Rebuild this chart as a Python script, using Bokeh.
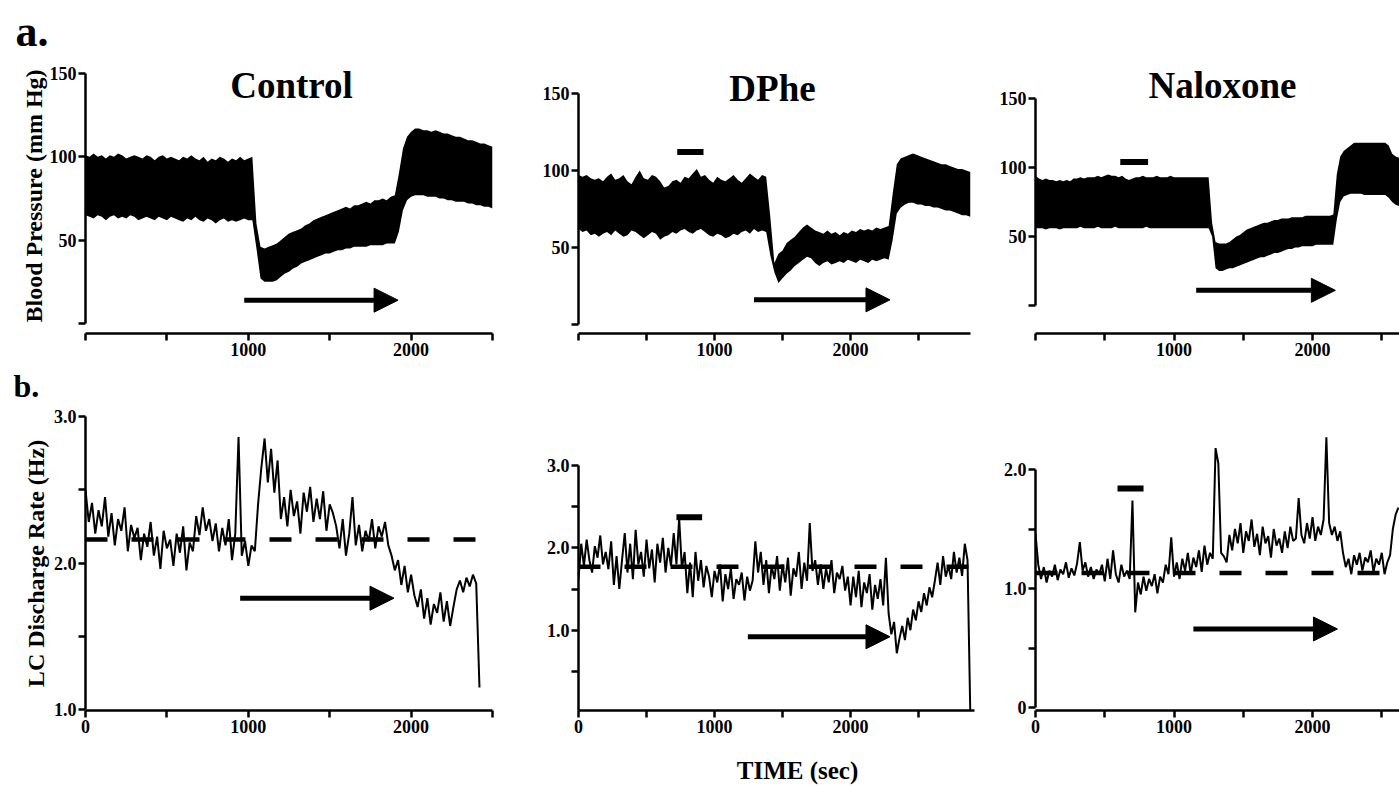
import numpy as np
from bokeh.plotting import figure
from bokeh.layouts import row, column
from bokeh.models import (Range1d, FixedTicker, Label, Arrow, NormalHead,
                          CustomJSTickFormatter)
from bokeh.embed import file_html
from bokeh.resources import INLINE

FONT = "Liberation Serif"

# ------------------------------------------------------------------ DATA
titles = ["Control", "DPhe", "Naloxone"]
row_letters = ["a.", "b."]
bp_label = "Blood Pressure (mm Hg)"
lc_label = "LC Discharge Rate (Hz)"
time_label = "TIME (sec)"

# Blood pressure envelopes (mm Hg) - upper (systolic) and lower (diastolic)
a1_dt = 25
a1_upper = [101, 100, 102, 100, 101, 99, 101, 100, 102, 101,
            99, 100, 101, 100, 99, 101, 100, 98, 100, 101,
            99, 100, 99, 98, 100, 99, 101, 99, 98, 100,
            97, 99, 98, 100, 99, 97, 99, 98, 100, 98,
            99, 100, 60, 46, 45, 46, 47, 48, 50, 52,
            54, 55, 56, 57, 59, 60, 62, 63, 64, 65,
            66, 67, 68, 69, 70, 69, 71, 71, 72, 73,
            72, 74, 74, 75, 74, 76, 77, 90, 105, 112,
            115, 117, 117, 116, 116, 115, 116, 115, 114, 114,
            113, 112, 112, 111, 110, 110, 109, 108, 108, 107,
            106]
a1_lower = [65, 64, 63, 65, 64, 62, 64, 65, 63, 64,
            63, 65, 64, 62, 63, 64, 63, 62, 64, 63,
            62, 64, 63, 62, 61, 63, 62, 64, 62, 61,
            63, 62, 60, 62, 63, 61, 62, 61, 62, 63,
            62, 62, 45, 27, 25, 25, 25, 26, 28, 30,
            31, 33, 34, 36, 37, 38, 39, 40, 41, 42,
            42, 43, 44, 44, 45, 45, 46, 46, 46, 46,
            47, 47, 47, 47, 48, 48, 48, 55, 68, 74,
            76, 77, 77, 77, 76, 76, 76, 75, 75, 74,
            74, 73, 73, 73, 72, 72, 71, 71, 70, 70,
            69]

a2_dt = 30
a2_upper = [97, 96, 97, 95, 94, 95, 93, 96, 98, 94,
            95, 97, 93, 91, 96, 100, 95, 94, 97, 96,
            93, 89, 90, 93, 94, 92, 96, 95, 98, 101,
            96, 97, 94, 92, 96, 94, 93, 95, 97, 94,
            92, 95, 98, 96, 94, 97, 96,
            70, 40, 46, 48, 53, 55, 57, 60, 63, 65,
            63, 61, 60, 59, 61, 59, 60, 58, 60, 59,
            61, 60, 62, 61, 62, 61, 63, 62, 63, 64,
            85, 104, 108, 109, 110, 111, 110, 109, 108, 107,
            106, 105, 104, 104, 103, 102, 101, 101, 100, 99]
a2_lower = [62, 60, 61, 58, 59, 57, 59, 60, 58, 61,
            59, 57, 58, 61, 60, 58, 56, 58, 60, 59,
            55, 57, 58, 60, 59, 61, 62, 60, 59, 61,
            62, 60, 58, 57, 59, 58, 56, 57, 59, 58,
            60, 61, 59, 62, 60, 61, 60,
            45, 34, 27, 30, 33, 35, 38, 40, 42, 44,
            43, 40, 38, 40, 41, 39, 40, 41, 40, 42,
            41, 40, 42, 41, 40, 42, 41, 42, 43, 42,
            55, 72, 76, 78, 79, 79, 78, 78, 77, 77,
            76, 76, 75, 74, 74, 73, 72, 71, 71, 70]

a3_dt = 25
a3_upper = [94, 92, 91, 92, 91, 91, 90, 91, 90, 91,
            90, 92, 92, 93, 92, 93, 93, 93, 94, 93,
            94, 95, 94, 94, 93, 94, 92, 91, 92, 93,
            93, 94, 93, 93, 93, 94, 93, 93, 93, 94,
            93, 93, 93, 93, 93, 93, 93, 93, 93, 93, 93,
            60, 46, 45, 45, 45, 46, 48, 50, 51, 53,
            55, 56, 57, 58, 59, 60, 60, 61, 62, 62,
            63, 63, 63, 64, 64, 64, 64, 65, 65, 65,
            65, 65, 65, 65, 65, 66, 95, 108, 112, 114,
            116, 118, 118, 118, 118, 118, 118, 118, 118, 118,
            118, 116, 110, 108, 107]
a3_lower = [56, 56, 56, 55, 56, 56, 56, 55, 56, 56,
            56, 56, 56, 57, 56, 56, 56, 56, 57, 56,
            56, 56, 56, 57, 56, 56, 56, 56, 56, 56,
            56, 56, 57, 56, 56, 56, 56, 56, 56, 56,
            56, 56, 56, 56, 56, 56, 56, 56, 56, 56, 56,
            50, 27, 25, 25, 26, 27, 27, 28, 29, 30,
            31, 32, 33, 34, 35, 35, 36, 37, 38, 38,
            39, 40, 41, 41, 42, 42, 43, 43, 43, 43,
            44, 44, 44, 44, 44, 44, 62, 75, 79, 80,
            81, 81, 81, 81, 80, 80, 80, 80, 80, 80,
            80, 78, 75, 73, 72]

# LC discharge rate (Hz), sampled every lc_dt seconds
lc_dt = 20
b1_rate = [2.50, 2.28, 2.41, 2.20, 2.36, 2.25, 2.45, 2.18, 2.34, 2.12,
           2.30, 2.22, 2.38, 2.08, 2.26, 2.17, 2.24, 2.02, 2.20, 2.11,
           2.28, 2.05, 2.18, 1.96, 2.22, 2.10, 2.16, 1.98, 2.20, 2.07,
           2.25, 1.95, 2.14, 2.08, 2.32, 2.19, 2.38, 2.22, 2.30, 2.15,
           2.27, 2.08, 2.24, 2.12, 2.30, 2.02, 2.20, 2.86, 2.05, 2.15,
           1.98, 2.12, 2.08, 2.40, 2.65, 2.85, 2.55, 2.78, 2.48, 2.70,
           2.30, 2.45, 2.25, 2.50, 2.32, 2.42, 2.20, 2.48, 2.35, 2.52,
           2.28, 2.44, 2.30, 2.49, 2.22, 2.40, 2.34, 2.25, 2.10, 2.30,
           2.05, 2.20, 2.45, 2.12, 2.26, 2.08, 2.22, 2.15, 2.30, 2.10,
           2.25, 2.18, 2.28, 2.12, 2.05, 1.95, 2.02, 1.85, 1.98, 1.80,
           1.92, 1.78, 1.70, 1.82, 1.62, 1.76, 1.58, 1.72, 1.66, 1.80,
           1.60, 1.74, 1.57, 1.70, 1.82, 1.88, 1.80, 1.90, 1.84, 1.92,
           1.86, 1.15]
b2_rate = [1.62, 2.05, 1.78, 2.10, 1.85, 1.70, 2.02, 1.88, 2.15, 1.80,
           1.95, 1.74, 2.08, 1.55, 1.90, 1.50, 1.85, 2.18, 1.70, 2.05,
           1.62, 2.22, 1.80, 1.95, 1.65, 2.10, 1.75, 1.98, 1.58, 2.05,
           1.82, 2.12, 1.70, 2.00, 1.78, 2.18, 1.80, 2.36, 1.75, 1.95,
           1.45, 1.82, 1.40, 1.95, 1.60, 1.85, 1.52, 1.78, 1.65, 1.40,
           1.72, 1.58, 1.80, 1.35, 1.68, 1.50, 1.75, 1.38, 1.62, 1.55,
           1.70, 1.36, 1.65, 1.48, 1.60, 2.08, 1.70, 1.95, 1.55, 1.85,
           1.45, 1.78, 1.62, 1.90, 1.48, 1.80, 1.58, 1.88, 1.42, 1.75,
           1.65, 1.95, 1.50, 1.82, 1.60, 2.30, 1.72, 1.85, 1.55, 1.80,
           1.50, 1.75, 1.58, 1.85, 1.45, 1.70, 1.62, 1.78, 1.48, 1.65,
           1.30, 1.65, 1.40, 1.72, 1.28, 1.58, 1.45, 1.68, 1.25, 1.55,
           1.38, 1.62, 1.30, 1.88, 1.20, 0.95, 1.10, 0.72, 0.90, 1.05,
           0.88, 1.15, 1.00, 1.25, 1.12, 1.35, 1.22, 1.45, 1.30, 1.52,
           1.40, 1.60, 1.82, 1.55, 1.90, 1.65, 1.78, 1.62, 1.95, 1.70,
           1.88, 1.66, 2.05, 1.85, 0.02]
b3_rate = [1.46, 1.20, 1.08, 1.18, 1.05, 1.15, 1.10, 1.20, 1.07, 1.16,
           1.12, 1.22, 1.09, 1.17, 1.11, 1.21, 1.39, 1.15, 1.22, 1.10,
           1.18, 1.08, 1.16, 1.12, 1.20, 1.06, 1.25, 1.08, 1.32, 1.12,
           1.05, 1.20, 1.10, 1.15, 1.08, 1.74, 0.80, 1.05, 0.95, 1.10,
           0.98, 1.08, 1.02, 1.12, 0.96, 1.10, 1.05, 1.20, 1.12, 1.43,
           1.10, 1.22, 1.08, 1.25, 1.15, 1.30, 1.12, 1.26, 1.18, 1.32,
           1.14, 1.36, 1.20, 1.30, 1.25, 2.18, 2.05, 1.30, 1.27, 1.22,
           1.45, 1.32, 1.50, 1.38, 1.55, 1.30, 1.48, 1.40, 1.58, 1.35,
           1.46, 1.28, 1.52, 1.38, 1.44, 1.26, 1.50, 1.36, 1.42, 1.30,
           1.48, 1.34, 1.52, 1.40, 1.42, 1.76, 1.45, 1.38, 1.55, 1.42,
           1.60, 1.40, 1.52, 1.45, 1.58, 2.27, 1.55, 1.45, 1.52, 1.40,
           1.48, 1.30, 1.18, 1.25, 1.12, 1.28, 1.20, 1.30, 1.15, 1.26,
           1.22, 1.32, 1.14, 1.25, 1.20, 1.30, 1.12, 1.22, 1.28, 1.50,
           1.62, 1.68]

# pre-drug baseline (dashed) levels, Hz
b1_base = 2.16
b2_base = 1.77
b3_base = 1.13

# drug application bars: [start, end] s, and level
a2_bar, a2_bar_level = [726, 919], 112
a3_bar, a3_bar_level = [612, 813], 104
b2_bar, b2_bar_level = [720, 909], 2.37
b3_bar, b3_bar_level = [592, 780], 1.84

# stimulus arrows: [start, end] s, and level
a1_arrow, a1_arrow_level = [975, 1920], 14
a2_arrow, a2_arrow_level = [1290, 2290], 16
a3_arrow, a3_arrow_level = [1160, 2165], 11
b1_arrow, b1_arrow_level = [950, 1895], 1.76
b2_arrow, b2_arrow_level = [1245, 2290], 0.92
b3_arrow, b3_arrow_level = [1140, 2180], 0.66

# axis ticks
bp_major, bp_minor = [50, 100, 150], [0]
top_x_major, top_x_minor = [1000, 2000], [0, 500, 1500, 2500]
bot_x_major, bot_x_minor = [0, 1000, 2000], [500, 1500, 2500]
b1_y_major, b1_y_minor = [1.0, 2.0, 3.0], [1.5, 2.5]
b2_y_major, b2_y_minor = [0, 1.0, 2.0, 3.0], [0.5, 1.5, 2.5]
b3_y_major, b3_y_minor = [0, 1.0, 2.0], [0.5, 1.5]

# ------------------------------------------------------------------ LAYOUT
PAGE_W = 1399
COLS = [(0, 520), (520, 995), (995, 1399)]
STRIP_A = (0, 58)
ROW_TOP = (58, 364)
STRIP_B = (364, 405)
ROW_BOT = (405, 752)
STRIP_T = (752, 786)

# frame edges (page px): shared per column / per row
COL_FRAMES = [(85, 492), (578, 976), (1035, 1399)]
TOP_FRAME = (58, 333)
BOT_FRAME = (416, 710)

# the renderer draws "alphabetic" text this fraction of the font size low
BASELINE_FIX = 0.28


def y_range_from(anchor0, anchor1, top, bottom):
    (v0, p0), (v1, p1) = anchor0, anchor1
    s = (p0 - p1) / (v1 - v0)
    return (v0 - (bottom - p0) / s, v1 + (p1 - top) / s)


def spec(col, rowbox, frame_tb, xr, a0, a1):
    L, R = COL_FRAMES[col]
    T, B = frame_tb
    return dict(col=col, rowbox=rowbox, L=L, R=R, T=T, B=B, xr=xr,
                yr=y_range_from(a0, a1, T, B))


SPECS = {
    "A1": spec(0, ROW_TOP, TOP_FRAME, (0, 2500), (0, 323), (150, 73)),
    "A2": spec(1, ROW_TOP, TOP_FRAME, (0, 2926), (0, 324), (150, 93)),
    "A3": spec(2, ROW_TOP, TOP_FRAME, (0, 2628), (0, 305), (150, 98)),
    "B1": spec(0, ROW_BOT, BOT_FRAME, (0, 2500), (1.0, 709), (3.0, 416)),
    "B2": spec(1, ROW_BOT, BOT_FRAME, (0, 2926), (0, 712), (3.0, 465)),
    "B3": spec(2, ROW_BOT, BOT_FRAME, (0, 2628), (0, 707), (2.0, 469)),
}


def to_data(s, px, py):
    x0, x1 = s["xr"]
    y0, y1 = s["yr"]
    return (x0 + (px - s["L"]) / (s["R"] - s["L"]) * (x1 - x0),
            y0 + (s["B"] - py) / (s["B"] - s["T"]) * (y1 - y0))


def style_axis(ax):
    ax.axis_line_width = 2.5
    ax.axis_line_color = "black"
    ax.major_tick_line_width = 2.5
    ax.minor_tick_line_width = 2.5
    ax.major_tick_line_color = "black"
    ax.minor_tick_line_color = "black"
    ax.major_tick_out = 7
    ax.major_tick_in = 0
    ax.minor_tick_out = 7
    ax.minor_tick_in = 0
    ax.major_label_text_font = FONT
    ax.major_label_text_font_style = "bold"
    ax.major_label_text_font_size = "18px"
    ax.major_label_text_color = "black"
    ax.major_label_standoff = 2
    ax.axis_label_text_font = FONT
    ax.axis_label_text_font_style = "bold"
    ax.axis_label_text_font_size = "24px"
    ax.axis_label_text_color = "black"


def make_panel(name, xb, yb, xt, yt, yfmt=None):
    s = SPECS[name]
    cl, cr = COLS[s["col"]]
    rt, rb = s["rowbox"]
    p = figure(width=cr - cl, height=rb - rt,
               x_range=Range1d(*s["xr"]), y_range=Range1d(*s["yr"]),
               min_border_left=s["L"] - cl, min_border_right=cr - s["R"],
               min_border_top=s["T"] - rt, min_border_bottom=rb - s["B"],
               output_backend="svg", toolbar_location=None)
    p.outline_line_color = None
    p.xgrid.visible = False
    p.ygrid.visible = False
    p.background_fill_color = "white"
    p.border_fill_color = "white"
    style_axis(p.xaxis[0])
    style_axis(p.yaxis[0])
    p.xaxis.bounds = xb
    p.yaxis.bounds = yb
    p.xaxis.ticker = FixedTicker(ticks=xt[0], minor_ticks=xt[1])
    p.yaxis.ticker = FixedTicker(ticks=yt[0], minor_ticks=yt[1])
    if yfmt is not None:
        p.yaxis.formatter = yfmt
    return p, s


def text_label(x, y, text, size, align):
    return Label(x=x, y=y, text=text, text_font=FONT,
                 text_font_style="bold", text_font_size=f"{size}px",
                 text_align=align, text_baseline="alphabetic",
                 text_color="black")


def add_label(p, s, text, px, py, size, align="center"):
    x, y = to_data(s, px, py - BASELINE_FIX * size)
    p.add_layout(text_label(x, y, text, size, align))


def add_arrow(p, span, level):
    p.add_layout(Arrow(x_start=span[0], y_start=level, x_end=span[1],
                       y_end=level, line_width=5, line_color="black",
                       end=NormalHead(size=24, fill_color="black",
                                      line_color="black", line_width=1)))


def add_bar(p, span, level):
    p.segment(x0=[span[0]], y0=[level], x1=[span[1]], y1=[level],
              line_width=6, line_color="black")


def rate_fmt():
    return CustomJSTickFormatter(code="return tick == 0 ? '0' : tick.toFixed(1);")


def strip(box, text, px, anchor_y, size, align):
    y0, y1 = box
    p = figure(width=PAGE_W, height=y1 - y0,
               x_range=Range1d(0, PAGE_W), y_range=Range1d(y1, y0),
               x_axis_location=None, y_axis_location=None,
               min_border_left=0, min_border_right=0,
               min_border_top=0, min_border_bottom=0,
               output_backend="svg", toolbar_location=None)
    p.outline_line_color = None
    p.xgrid.visible = False
    p.ygrid.visible = False
    p.border_fill_color = "white"
    p.add_layout(text_label(px, anchor_y, text, size, align))
    return p


# ---- top row: blood pressure
def bp_panel(name, dt, upper, lower, xbound):
    p, s = make_panel(name, (0, xbound), (0, 150),
                      (top_x_major, top_x_minor), (bp_major, bp_minor))
    t = np.arange(len(upper)) * dt
    p.varea(x=t, y1=np.array(lower), y2=np.array(upper),
            fill_color="black")
    return p, s


pA1, sA1 = bp_panel("A1", a1_dt, a1_upper, a1_lower, 2500)
pA2, sA2 = bp_panel("A2", a2_dt, a2_upper, a2_lower, 2880)
pA3, sA3 = bp_panel("A3", a3_dt, a3_upper, a3_lower, 2628)

pA1.yaxis.axis_label = bp_label
pA1.yaxis.axis_label_standoff = 0

add_arrow(pA1, a1_arrow, a1_arrow_level)
add_arrow(pA2, a2_arrow, a2_arrow_level)
add_arrow(pA3, a3_arrow, a3_arrow_level)
add_bar(pA2, a2_bar, a2_bar_level)
add_bar(pA3, a3_bar, a3_bar_level)

add_label(pA1, sA1, titles[0], 291, 95, 37)
add_label(pA2, sA2, titles[1], 772, 98, 37)
add_label(pA3, sA3, titles[2], 1222, 95, 37)


# ---- bottom row: LC discharge rate
def lc_panel(name, rate, base, xbound, yb, yt):
    p, s = make_panel(name, (0, xbound), yb,
                      (bot_x_major, bot_x_minor), yt, yfmt=rate_fmt())
    t = np.arange(len(rate)) * lc_dt
    p.line(x=[t[0], t[-1]], y=[base, base], line_width=4.5,
           line_color="black", line_dash="22 24")
    p.line(x=t, y=np.array(rate), line_width=2.0, line_color="black")
    return p, s


pB1, sB1 = lc_panel("B1", b1_rate, b1_base, 2500, (1.0, 3.0),
                    (b1_y_major, b1_y_minor))
pB2, sB2 = lc_panel("B2", b2_rate, b2_base, 2910, (0, 3.0),
                    (b2_y_major, b2_y_minor))
pB3, sB3 = lc_panel("B3", b3_rate, b3_base, 2628, (0, 2.0),
                    (b3_y_major, b3_y_minor))

pB1.yaxis.axis_label = lc_label
pB1.yaxis.axis_label_standoff = 2

add_arrow(pB1, b1_arrow, b1_arrow_level)
add_arrow(pB2, b2_arrow, b2_arrow_level)
add_arrow(pB3, b3_arrow, b3_arrow_level)
add_bar(pB2, b2_bar, b2_bar_level)
add_bar(pB3, b3_bar, b3_bar_level)

# text boxes kept fully inside their strips (anchor = label y)
sa = strip(STRIP_A, row_letters[0], 15, 30.5, 44, "left")
sb = strip(STRIP_B, row_letters[1], 13, 385.7, 32, "left")
st = strip(STRIP_T, time_label, 797, 770, 25, "center")

layout = column(sa, row(pA1, pA2, pA3), sb, row(pB1, pB2, pB3), st)

open("out.html", "w").write(file_html(layout, INLINE))
